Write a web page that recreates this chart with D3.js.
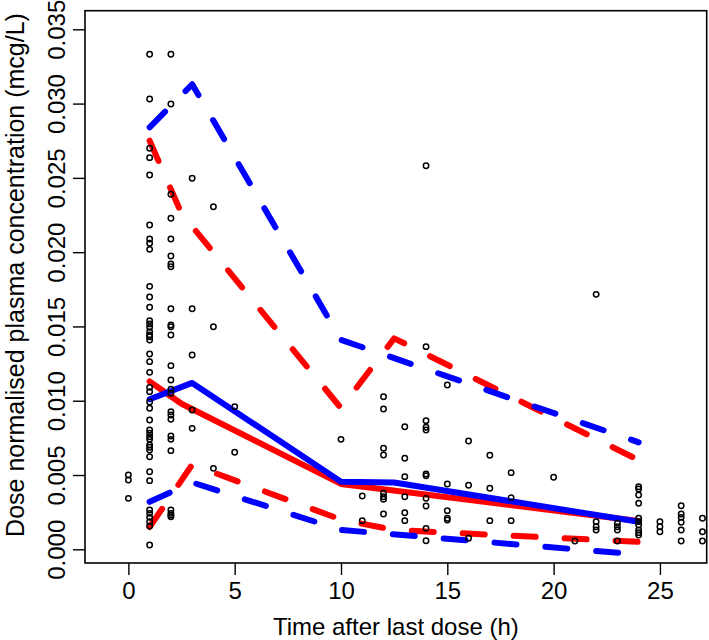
<!DOCTYPE html>
<html>
<head>
<meta charset="utf-8">
<script src="https://cdn.jsdelivr.net/npm/d3@7"></script>
<style>
  html, body { margin: 0; padding: 0; background: #fff; }
  svg { display: block; font-family: "Liberation Sans", Arial, Helvetica, sans-serif; }
</style>
</head>
<body>
<svg id="chart" width="709" height="640"></svg>
<script>
// ---- Data ----
const xTicks = [0, 5, 10, 15, 20, 25];
const yTicks = [0.000, 0.005, 0.010, 0.015, 0.020, 0.025, 0.030, 0.035];
const xTitle = "Time after last dose (h)";
const yTitle = "Dose normalised plasma concentration (mcg/L)";

// observed concentrations: [time after last dose (h), dose-normalised conc (mcg/L)]
const obsPoints = [
  [0, 0.00500], [0, 0.00466], [0, 0.00343],
  [1, 0.03332], [1, 0.03031], [1, 0.02699], [1, 0.02636], [1, 0.02519], [1, 0.02183],
  [1, 0.02089], [1, 0.02060], [1, 0.02019], [1, 0.01770], [1, 0.01698], [1, 0.01629],
  [1, 0.01539], [1, 0.01517], [1, 0.01494], [1, 0.01465], [1, 0.01442], [1, 0.01431],
  [1, 0.01409], [1, 0.01315], [1, 0.01263], [1, 0.01191], [1, 0.01090], [1, 0.01061],
  [1, 0.00991], [1, 0.00949], [1, 0.00870], [1, 0.00803], [1, 0.00781], [1, 0.00758],
  [1, 0.00740], [1, 0.00702], [1, 0.00687], [1, 0.00668], [1, 0.00623], [1, 0.00522],
  [1, 0.00462], [1, 0.00265], [1, 0.00242], [1, 0.00215], [1, 0.00186], [1, 0.00157],
  [1, 0.00029],
  [2, 0.03332], [2, 0.02997], [2, 0.02390], [2, 0.02228], [2, 0.02089], [2, 0.01974],
  [2, 0.01920], [2, 0.01902], [2, 0.01619], [2, 0.01510], [2, 0.01498], [2, 0.01442],
  [2, 0.01236], [2, 0.01140], [2, 0.01077], [2, 0.01050], [2, 0.00926], [2, 0.00904],
  [2, 0.00875], [2, 0.00763], [2, 0.00740], [2, 0.00664], [2, 0.00265], [2, 0.00242],
  [2, 0.00219], [2, 0.00230],
  [3, 0.02497], [3, 0.01619], [3, 0.01308], [3, 0.00938], [3, 0.00814],
  [4, 0.02306], [4, 0.01498], [4, 0.00545],
  [5, 0.00960], [5, 0.00653],
  [10, 0.00740],
  [11, 0.00359], [11, 0.00193],
  [12, 0.01027], [12, 0.00944], [12, 0.00680], [12, 0.00635], [12, 0.00377], [12, 0.00354],
  [12, 0.00337], [12, 0.00238],
  [13, 0.00825], [13, 0.00613], [13, 0.00489], [13, 0.00354], [13, 0.00246], [13, 0.00193],
  [14, 0.02582], [14, 0.01364], [14, 0.00866], [14, 0.00821], [14, 0.00803], [14, 0.00507],
  [14, 0.00495], [14, 0.00343], [14, 0.00291], [14, 0.00141], [14, 0.00058],
  [15, 0.01106], [15, 0.00440], [15, 0.00260], [15, 0.00209], [15, 0.00197],
  [16, 0.00729], [16, 0.00431], [16, 0.00074],
  [17, 0.00633], [17, 0.00411], [17, 0.00193],
  [18, 0.00516], [18, 0.00347], [18, 0.00193],
  [20, 0.00485],
  [21, 0.00056],
  [22, 0.01716], [22, 0.00186], [22, 0.00152], [22, 0.00130],
  [23, 0.00175], [23, 0.00152], [23, 0.00130], [23, 0.00056],
  [24, 0.00421], [24, 0.00406], [24, 0.00365], [24, 0.00310], [24, 0.00209], [24, 0.00186],
  [24, 0.00164], [24, 0.00130], [24, 0.00112], [24, 0.00096],
  [25, 0.00186], [25, 0.00152], [25, 0.00118],
  [26, 0.00293], [26, 0.00238], [26, 0.00215], [26, 0.00182], [26, 0.00130], [26, 0.00056],
  [27, 0.00209], [27, 0.00118], [27, 0.00056]
];

// observed percentiles (red)
const obsMedTime = [1, 2.5, 10, 24];
const obsMed     = [0.0113, 0.0098, 0.0044, 0.0019];
const obsHiTime  = [1, 2.5, 10, 12.5, 24];
const obsHi      = [0.0275, 0.0226, 0.0095, 0.0142, 0.0060];
const obsLoTime  = [1, 3, 10, 12.5, 24];
const obsLo      = [0.0015, 0.0057, 0.0020, 0.0013, 0.0005];

// predicted percentiles (blue)
const predMedTime = [1, 3, 10, 12.5, 24];
const predMed     = [0.0101, 0.0112, 0.00455, 0.0045, 0.00185];
const predHiTime  = [1, 3, 10, 24];
const predHi      = [0.0284, 0.0313, 0.0141, 0.0072];
const predLoTime  = [1, 3, 10, 24];
const predLo      = [0.0032, 0.0045, 0.0013, -0.00035];

// ---- Layout ----
const svg = d3.select("#chart");
const L = 85, R = 706.7, T = 10.7, B = 563;

const x = d3.scaleLinear().domain([-2.04, 27.2]).range([L, R]);
const y = d3.scaleLinear().domain([-0.000922, 0.036252]).range([B, T]);

svg.append("rect").attr("width", 709).attr("height", 640).attr("fill", "#fff");

// lines
const line = d3.line().x(d => x(d[0])).y(d => y(d[1]));
function drawLine(ts, vs, color, dashed) {
  svg.append("path")
    .datum(ts.map((t, i) => [t, vs[i]]))
    .attr("d", line)
    .attr("fill", "none")
    .attr("stroke", color)
    .attr("stroke-width", 6)
    .attr("stroke-linecap", "round")
    .attr("stroke-linejoin", "round")
    .attr("stroke-dasharray", dashed ? "22,29" : null);
}
drawLine(obsHiTime, obsHi, "#ff0000", true);
drawLine(obsLoTime, obsLo, "#ff0000", true);
drawLine(obsMedTime, obsMed, "#ff0000", false);
drawLine(predHiTime, predHi, "#0000ff", true);
drawLine(predLoTime, predLo, "#0000ff", true);
drawLine(predMedTime, predMed, "#0000ff", false);

// points
svg.append("g").selectAll("circle")
  .data(obsPoints)
  .join("circle")
  .attr("cx", d => x(d[0]))
  .attr("cy", d => y(d[1]))
  .attr("r", 2.7)
  .attr("fill", "none")
  .attr("stroke", "#000")
  .attr("stroke-width", 1.5);

// box
svg.append("rect")
  .attr("x", L).attr("y", T).attr("width", R - L).attr("height", B - T)
  .attr("fill", "none").attr("stroke", "#000").attr("stroke-width", 1.6);

// x axis
const gx = svg.append("g").attr("transform", `translate(0,${B})`)
  .call(d3.axisBottom(x).tickValues(xTicks).tickSize(12).tickFormat(d3.format("d")));
gx.select(".domain").remove();
gx.selectAll("line").attr("stroke", "#000").attr("stroke-width", 1.4);
gx.selectAll("text").attr("y", 35.5).attr("dy", 0)
  .attr("font-size", 24).attr("fill", "#000");

// y axis
const gy = svg.append("g").attr("transform", `translate(${L},0)`)
  .call(d3.axisLeft(y).tickValues(yTicks).tickSize(12).tickFormat(d3.format(".3f")));
gy.select(".domain").remove();
gy.selectAll("line").attr("stroke", "#000").attr("stroke-width", 1.4);
gy.selectAll("text")
  .attr("transform", "rotate(-90)")
  .attr("x", 0).attr("y", -20).attr("dy", 0)
  .attr("text-anchor", "middle")
  .attr("font-size", 24).attr("fill", "#000");

// titles
svg.append("text").attr("x", (L + R) / 2).attr("y", 635)
  .attr("text-anchor", "middle").attr("font-size", 24).attr("fill", "#000")
  .text(xTitle);
svg.append("text").attr("transform", `translate(24,275) rotate(-90)`)
  .attr("text-anchor", "middle").attr("font-size", 25).attr("fill", "#000")
  .text(yTitle);
</script>
</body>
</html>
